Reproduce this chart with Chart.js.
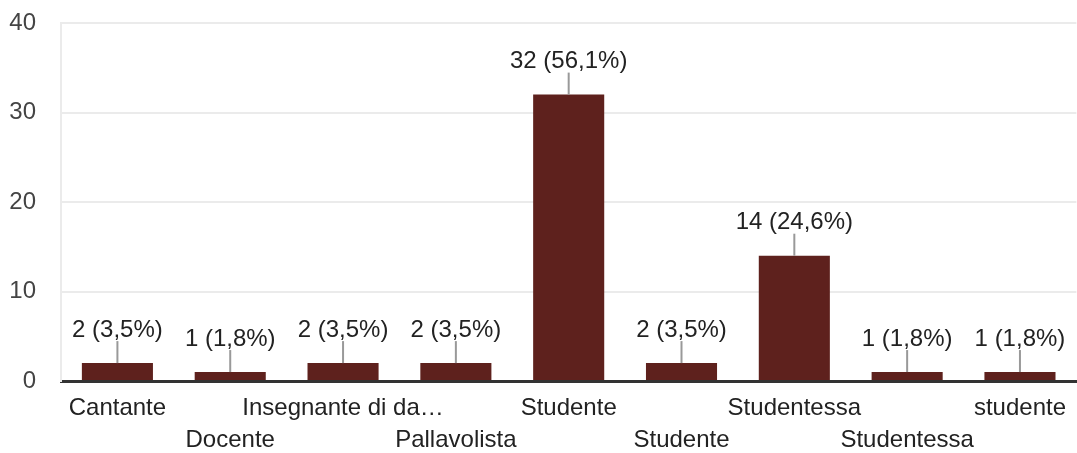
<!DOCTYPE html>
<html>
<head>
<meta charset="utf-8">
<script src="https://cdn.jsdelivr.net/npm/chart.js@4"></script>
<style>
  html, body { margin: 0; padding: 0; background: #fff; }
  #wrap { width: 1077px; height: 453px; }
</style>
</head>
<body>
<div id="wrap"><canvas id="jobChart"></canvas></div>
<script>
// categories (answers) and counts
const jobs = ['Cantante', 'Docente', 'Insegnante di da…', 'Pallavolista', 'Studente', 'Studente', 'Studentessa', 'Studentessa', 'studente'];
let counts = [2, 1, 2, 2, 32, 2, 14, 1, 1];
// labels shown above each bar
const countLabels = ['2 (3,5%)', '1 (1,8%)', '2 (3,5%)', '2 (3,5%)', '32 (56,1%)', '2 (3,5%)', '14 (24,6%)', '1 (1,8%)', '1 (1,8%)'];
const yTicks = [0, 10, 20, 30, 40];

const FONT = '"Liberation Sans", Arial, sans-serif';

// x labels alternate between two rows
const jobRows = jobs.map((j, i) => i % 2 === 0 ? [j, ''] : ['', j]);

//draws leader line + label above each bar
const barLabels = {
    id: 'barLabels',
    afterDatasetsDraw(chart) {
        const ctx = chart.ctx;
        const meta = chart.getDatasetMeta(0);
        ctx.save();
        ctx.font = '24px ' + FONT;
        ctx.textAlign = 'center';
        ctx.textBaseline = 'middle';
        meta.data.forEach((bar, i) => {
            const top = bar.y;
            ctx.strokeStyle = '#999999';
            ctx.lineWidth = 2;
            ctx.beginPath();
            ctx.moveTo(bar.x, top);
            ctx.lineTo(bar.x, top - 22);
            ctx.stroke();
            ctx.fillStyle = '#222222';
            ctx.fillText(countLabels[i], bar.x, top - 33);
        });
        ctx.restore();
    }
};

const dataJobs = {
    labels: jobRows,
    datasets: [{
        data: counts,
        backgroundColor: '#5e211d',
        borderWidth: 0,
        barPercentage: 0.63,
        categoryPercentage: 1
    }]
};

const optionJobs = {
    responsive: true,
    maintainAspectRatio: false,
    animation: false,
    layout: { padding: { top: 23, right: 0, left: 0, bottom: 0 } },
    plugins: {
        legend: { display: false },
        tooltip: { enabled: false }
    },
    scales: {
        x: {
            grid: { display: false, drawTicks: false },
            border: { display: true, color: '#333333', width: 3 },
            ticks: {
                autoSkip: false,
                maxRotation: 0,
                minRotation: 0,
                padding: 11,
                color: '#222222',
                font: { family: FONT, size: 24, lineHeight: 1.333 }
            },
            afterFit(scale) { scale.height = 72; }
        },
        y: {
            min: 0,
            max: 40,
            afterBuildTicks(scale) { scale.ticks = yTicks.map(v => ({ value: v })); },
            grid: { color: '#ebebeb', lineWidth: 2, drawTicks: false },
            border: { display: true, color: '#ebebeb', width: 2 },
            ticks: {
                padding: 25,
                color: '#444444',
                font: { family: FONT, size: 24 }
            },
            afterFit(scale) {
                scale.width = 61;
                scale.paddingTop = 0;
                scale.paddingBottom = 0;
            }
        }
    }
};

const jobChart = new Chart(
    document.getElementById('jobChart').getContext('2d'),
    { type: 'bar', data: dataJobs, options: optionJobs, plugins: [barLabels] }
);
</script>
</body>
</html>
